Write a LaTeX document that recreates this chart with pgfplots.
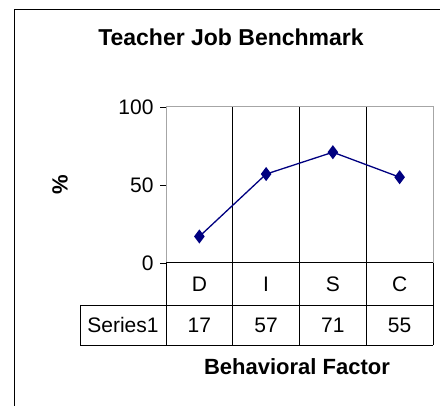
\documentclass[border=0pt]{standalone}
\usepackage{fontspec}
\setmainfont{Liberation Sans}
\usepackage{pgfplots}
\pgfplotsset{compat=1.18}
\definecolor{navy}{RGB}{0,0,128}
\begin{document}
\begin{tikzpicture}[x=1pt,y=1pt]
\useasboundingbox (0,0) rectangle (440,-406);
\draw[line width=1pt] (14.5,-406) -- (14.5,-9.5) -- (440,-9.5);
\node[font=\fontsize{23}{27}\selectfont\bfseries] at (231,-37) {Teacher Job Benchmark};
\node[font=\fontsize{22}{26}\selectfont\bfseries, rotate=90] at (60,-185) {\%};
\begin{axis}[
 at={(166pt,-263pt)}, anchor=south west, scale only axis, width=267pt, height=156pt,
 xmin=0,xmax=4,ymin=0,ymax=100,
 ytick={0,50,100}, xtick={1,2,3}, xticklabels={},
 ytick pos=left,
 xmajorgrids, major x grid style={black, line width=0.8pt},
 axis line style={draw=gray!70, line width=1pt},
 y tick style={black, line width=0.8pt}, x tick style={draw=none},
 tick align=outside, major tick length=6pt,
 ticklabel style={font=\fontsize{21}{25}\selectfont},
 /pgf/number format/assume math mode=true,
 yticklabel style={xshift=-3pt},
 clip=false,
]
\addplot[navy, line width=1.3pt, mark=diamond*, mark size=6pt, mark options={fill=navy}] coordinates {(0.5,17)(1.5,57)(2.5,71)(3.5,55)};
\end{axis}
\begin{scope}[line width=0.8pt]
\draw[line width=1pt] (166,-263) -- (433,-263);
\draw (80,-305) -- (433,-305);
\draw (80,-345) -- (433,-345);
\foreach \x in {166,232.75,299.5,366.25,433} \draw (\x,-263) -- (\x,-345);
\draw (80,-305) -- (80,-345);
\end{scope}
\begin{scope}[font=\fontsize{21}{25}\selectfont]
\node at (199.4,-284) {D};
\node at (266.1,-284) {I};
\node at (332.9,-284) {S};
\node at (399.6,-284) {C};
\node at (123,-325) {Series1};
\node at (199.4,-325) {17};
\node at (266.1,-325) {57};
\node at (332.9,-325) {71};
\node at (399.6,-325) {55};
\end{scope}
\node[font=\fontsize{22}{26}\selectfont\bfseries] at (297,-367) {Behavioral Factor};
\end{tikzpicture}
\end{document}
